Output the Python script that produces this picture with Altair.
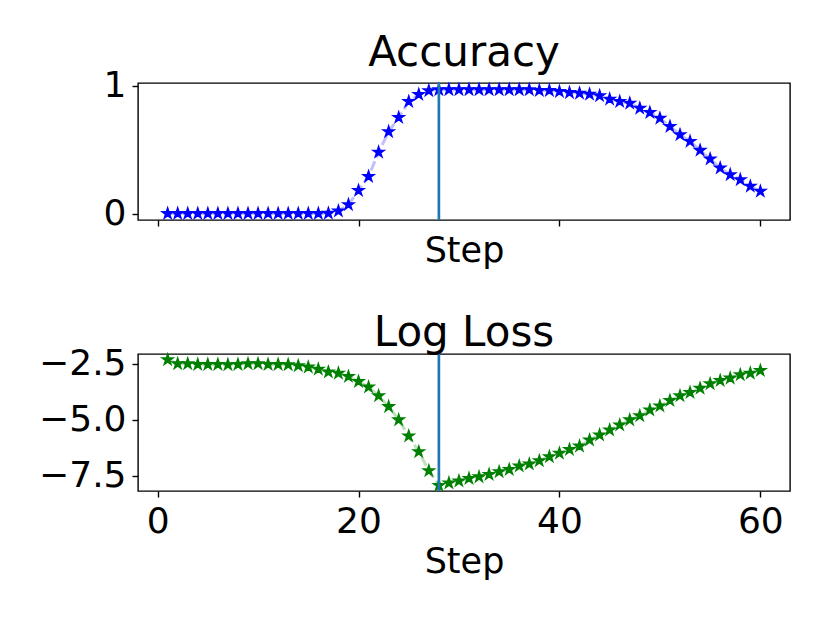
import altair as alt
import pandas as pd

steps = list(range(1, 61))
accuracy = [0.0, 0.0, 0.0, 0.0, 0.0, 0.0, 0.0, 0.0, 0.0, 0.0,
            0.0, 0.0, 0.0, 0.0, 0.0, 0.0, 0.002, 0.02, 0.07, 0.18,
            0.29, 0.48, 0.64, 0.75, 0.875, 0.93, 0.96, 0.968, 0.968, 0.968,
            0.968, 0.968, 0.968, 0.968, 0.968, 0.968, 0.968, 0.962, 0.962, 0.953,
            0.945, 0.94, 0.932, 0.92, 0.894, 0.875, 0.862, 0.823, 0.79, 0.745,
            0.68, 0.616, 0.564, 0.494, 0.426, 0.356, 0.304, 0.265, 0.213, 0.174]
log_loss = [-2.32, -2.50, -2.50, -2.53, -2.53, -2.53, -2.54, -2.53, -2.50, -2.50,
            -2.53, -2.53, -2.54, -2.59, -2.65, -2.74, -2.87, -2.92, -3.07, -3.29,
            -3.54, -3.93, -4.41, -5.00, -5.72, -6.42, -7.27, -7.92, -7.81, -7.72,
            -7.61, -7.54, -7.43, -7.31, -7.21, -7.06, -6.97, -6.82, -6.64, -6.49,
            -6.32, -6.17, -5.90, -5.67, -5.45, -5.23, -5.00, -4.82, -4.56, -4.38,
            -4.14, -3.93, -3.78, -3.59, -3.39, -3.25, -3.14, -2.99, -2.92, -2.80]
best_step = [28]
x_ticks = [0, 20, 40, 60]
acc_ticks = [0, 1]
loss_ticks = [-7.5, -5.0, -2.5]

df = pd.DataFrame({"step": steps, "accuracy": accuracy, "loss": log_loss})
vline = pd.DataFrame({"step": best_step})

STAR = ("M0,-1L0.2245,-0.309L0.9511,-0.309L0.3633,0.118L0.5878,0.809L0,0.382"
        "L-0.5878,0.809L-0.3633,0.118L-0.9511,-0.309L-0.2245,-0.309Z")
FONT = "DejaVu Sans"
W, H = 652, 137


def panel(field, color, title, ydomain, yticks, yfmt, show_labels, title_y, toff):
    xaxis = alt.Axis(
        values=x_ticks, labels=show_labels, ticks=True, tickSize=6, tickWidth=1.4,
        tickColor="black", domain=False, grid=False, title="Step",
        titleFont=FONT, titleFontSize=35, titleFontWeight="normal", titleColor="black",
        titleBaseline="alphabetic", titleY=title_y,
        labelFont=FONT, labelFontSize=36, labelColor="black",
        labelBaseline="alphabetic", labelPadding=35, labelFlush=False,
    )
    x = alt.X("step:Q", scale=alt.Scale(domain=[-1.95, 62.95], nice=False, zero=False), axis=xaxis)
    yaxis = alt.Axis(
        values=yticks, format=yfmt, ticks=True, tickSize=6, tickWidth=1.4, tickColor="black",
        domain=False, grid=False, title=None, labelFont=FONT, labelFontSize=36,
        labelColor="black", labelPadding=6, labelFlush=False,
    )
    y = alt.Y(f"{field}:Q", scale=alt.Scale(domain=ydomain, nice=False, zero=False), axis=yaxis)
    base = alt.Chart(df)
    line = base.mark_line(color=color, opacity=0.25, strokeWidth=3, strokeDash=[10, 4]).encode(x=x, y=y)
    pts = base.mark_point(shape=STAR, filled=True, color=color, size=120, opacity=1,
                          stroke=color, strokeWidth=1.6).encode(x=x, y=y)
    rule = alt.Chart(vline).mark_rule(color="#1f77b4", strokeWidth=2.7).encode(x="step:Q")
    return alt.layer(line, pts, rule).properties(
        width=W, height=H,
        title=alt.TitleParams(text=title, font=FONT, fontSize=42, fontWeight="normal",
                              color="black", baseline="alphabetic", offset=toff, anchor="middle"),
    )


top = panel("accuracy", "blue", "Accuracy", [-0.05, 1.02], acc_ticks, "d", False, 41, -40)
bottom = panel("loss", "green", "Log Loss", [-8.17, -2.066], loss_ticks, ".1f", True, 81.6, -42)

chart = alt.vconcat(top, bottom, spacing=134, bounds="flush").properties(
    padding={"left": 29, "top": 22, "right": 5, "bottom": 5},
    background="white",
).configure_view(stroke="black", strokeWidth=1.4)

chart.save("out.html", embed_options={"renderer": "svg", "actions": False})
